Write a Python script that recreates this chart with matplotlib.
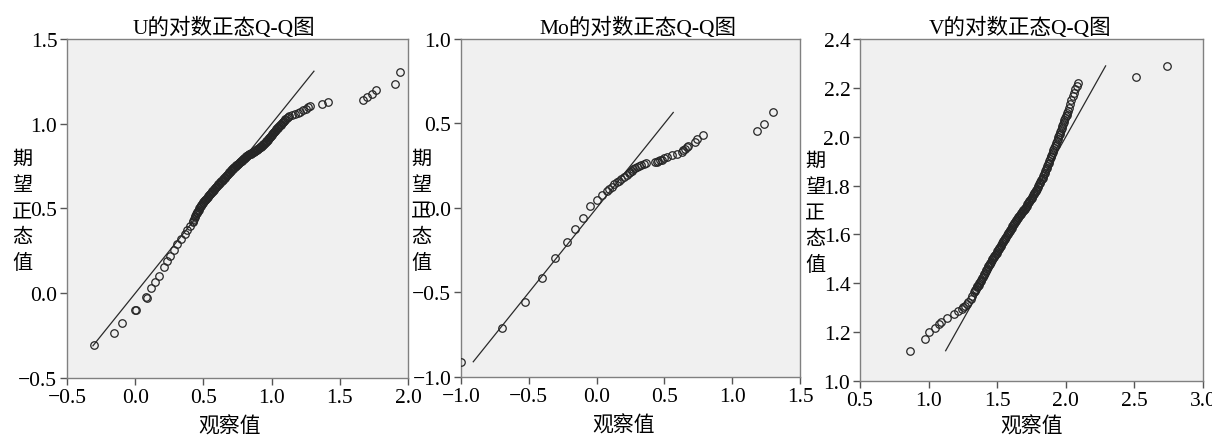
import matplotlib
matplotlib.use('Agg')
import matplotlib.pyplot as plt
from matplotlib.ticker import FuncFormatter

plt.rcParams['font.family'] = ['Liberation Serif', 'Noto Sans CJK SC']
plt.rcParams['axes.unicode_minus'] = True

# U: observed vs expected normal value (log scale)
u_obs = [-0.30, -0.155, -0.097, 0.0, 0.003, 0.081, 0.085, 0.114, 0.147, 0.177,
         0.209, 0.233, 0.257, 0.284, 0.309, 0.336, 0.363, 0.382, 0.402,
         0.420, 0.425, 0.430, 0.435, 0.440, 0.445, 0.450, 0.455, 0.460, 0.465,
         0.470, 0.475, 0.480, 0.485, 0.490, 0.495, 0.500, 0.505, 0.510, 0.515,
         0.520, 0.525, 0.530, 0.535, 0.540, 0.545, 0.550, 0.555, 0.560, 0.565,
         0.570, 0.575, 0.580, 0.585, 0.590, 0.595, 0.600, 0.605, 0.610, 0.615,
         0.620, 0.625, 0.630, 0.635, 0.640, 0.645, 0.650, 0.655, 0.660, 0.665,
         0.670, 0.675, 0.680, 0.685, 0.690, 0.695, 0.700, 0.705, 0.710, 0.715,
         0.720, 0.725, 0.730, 0.735, 0.740, 0.745, 0.750, 0.755, 0.760, 0.765,
         0.770, 0.775, 0.780, 0.785, 0.790, 0.795, 0.800, 0.805, 0.810, 0.815,
         0.820, 0.825, 0.830, 0.835, 0.840, 0.845, 0.850, 0.855, 0.860, 0.865,
         0.870, 0.875, 0.880, 0.885, 0.890, 0.895, 0.900, 0.905, 0.910, 0.915,
         0.920, 0.925, 0.930, 0.935, 0.940, 0.945, 0.950, 0.955, 0.960, 0.965,
         0.970, 0.975, 0.980, 0.985, 0.990, 0.995, 1.000, 1.005, 1.010, 1.015,
         1.020, 1.025, 1.030, 1.035, 1.040, 1.045, 1.050, 1.055, 1.060, 1.065,
         1.070, 1.075, 1.080, 1.085, 1.090, 1.095, 1.100, 1.11, 1.12, 1.13,
         1.15, 1.17, 1.19, 1.21, 1.23, 1.25, 1.27, 1.28,
         1.37, 1.415, 1.673, 1.70, 1.736, 1.767, 1.905, 1.94]
u_exp = [-0.305, -0.233, -0.177, -0.097, -0.10, -0.024, -0.03, 0.029, 0.065, 0.10,
         0.153, 0.188, 0.222, 0.257, 0.29, 0.32, 0.35, 0.375, 0.399,
         0.420, 0.429, 0.438, 0.447, 0.456, 0.465, 0.475, 0.481, 0.488, 0.494,
         0.500, 0.506, 0.512, 0.518, 0.525, 0.531, 0.537, 0.542, 0.548, 0.553,
         0.558, 0.563, 0.568, 0.573, 0.578, 0.583, 0.588, 0.592, 0.597, 0.601,
         0.606, 0.610, 0.615, 0.619, 0.624, 0.628, 0.633, 0.637, 0.642, 0.646,
         0.651, 0.655, 0.660, 0.664, 0.669, 0.673, 0.678, 0.682, 0.687, 0.691,
         0.696, 0.700, 0.705, 0.709, 0.714, 0.718, 0.723, 0.727, 0.731, 0.735,
         0.739, 0.743, 0.747, 0.751, 0.755, 0.758, 0.762, 0.765, 0.769, 0.772,
         0.776, 0.779, 0.783, 0.786, 0.790, 0.793, 0.797, 0.800, 0.804, 0.807,
         0.811, 0.814, 0.817, 0.819, 0.822, 0.824, 0.827, 0.829, 0.831, 0.833,
         0.836, 0.839, 0.842, 0.844, 0.847, 0.849, 0.852, 0.855, 0.858, 0.861,
         0.864, 0.867, 0.871, 0.874, 0.878, 0.882, 0.887, 0.891, 0.896, 0.900,
         0.905, 0.909, 0.914, 0.919, 0.924, 0.929, 0.934, 0.939, 0.944, 0.949,
         0.954, 0.958, 0.963, 0.967, 0.972, 0.976, 0.981, 0.985, 0.990, 0.994,
         0.999, 1.003, 1.008, 1.012, 1.017, 1.021, 1.026, 1.034, 1.041, 1.047,
         1.053, 1.060, 1.066, 1.072, 1.080, 1.088, 1.098, 1.107,
         1.116, 1.126, 1.141, 1.158, 1.176, 1.200, 1.236, 1.306]
u_line = [-0.31, 1.31]

# Mo
mo_obs = [-1.0, -0.70, -0.526, -0.40, -0.305, -0.22, -0.157, -0.098, -0.046, 0.0,
          0.04, 0.074, 0.092, 0.111, 0.13, 0.148, 0.163, 0.178, 0.20, 0.222,
          0.235, 0.246, 0.258, 0.27, 0.285, 0.30, 0.315, 0.33, 0.347, 0.364,
          0.43, 0.443, 0.455, 0.468, 0.48, 0.50, 0.517, 0.554, 0.59, 0.627,
          0.64, 0.652, 0.664, 0.676, 0.726, 0.738, 0.787, 1.186, 1.232, 1.303]
mo_exp = [-0.909, -0.712, -0.554, -0.416, -0.298, -0.201, -0.124, -0.057, 0.01, 0.047,
          0.075, 0.102, 0.114, 0.126, 0.139, 0.152, 0.162, 0.172, 0.185, 0.197,
          0.204, 0.211, 0.221, 0.231, 0.238, 0.245, 0.251, 0.256, 0.260, 0.264,
          0.270, 0.273, 0.277, 0.281, 0.285, 0.293, 0.300, 0.314, 0.322, 0.333,
          0.340, 0.349, 0.358, 0.368, 0.389, 0.408, 0.432, 0.457, 0.497, 0.566]
mo_line = [-0.91, 0.565]

# V
v_obs = [0.864, 0.974, 1.003, 1.047, 1.078, 1.09, 1.132, 1.185, 1.216, 1.24,
         1.253, 1.265, 1.278, 1.29, 1.307, 1.316,
         1.330, 1.335, 1.340, 1.345, 1.350, 1.355, 1.360, 1.365, 1.370, 1.375,
         1.380, 1.385, 1.390, 1.395, 1.400, 1.405, 1.410, 1.415, 1.420, 1.425,
         1.430, 1.435, 1.440, 1.445, 1.450, 1.455, 1.460, 1.465, 1.470, 1.475,
         1.480, 1.485, 1.490, 1.495, 1.500, 1.505, 1.510, 1.515, 1.520, 1.525,
         1.530, 1.535, 1.540, 1.545, 1.550, 1.555, 1.560, 1.565, 1.570, 1.575,
         1.580, 1.585, 1.590, 1.595, 1.600, 1.605, 1.610, 1.615, 1.620, 1.625,
         1.630, 1.635, 1.640, 1.645, 1.650, 1.655, 1.660, 1.665, 1.670, 1.675,
         1.680, 1.685, 1.690, 1.695, 1.700, 1.705, 1.710, 1.715, 1.720, 1.725,
         1.730, 1.735, 1.740, 1.745, 1.750, 1.755, 1.760, 1.765, 1.770, 1.775,
         1.780, 1.785, 1.790, 1.795, 1.800, 1.805, 1.810, 1.815, 1.820, 1.825,
         1.830, 1.835, 1.840, 1.845, 1.850, 1.855, 1.860, 1.865, 1.870, 1.875,
         1.880, 1.885, 1.890, 1.895, 1.900, 1.905, 1.910, 1.915, 1.920, 1.925,
         1.930, 1.935, 1.940, 1.945, 1.950, 1.955, 1.960, 1.965, 1.970, 1.975,
         1.980, 1.985, 1.990, 1.995, 2.000, 2.005, 2.010, 2.015, 2.020,
         2.03, 2.04, 2.05, 2.06, 2.07, 2.08, 2.09, 2.512, 2.74]
v_exp = [1.124, 1.172, 1.20, 1.216, 1.233, 1.243, 1.257, 1.274, 1.288, 1.296,
         1.302, 1.308, 1.315, 1.323, 1.336, 1.348,
         1.366, 1.370, 1.374, 1.378, 1.383, 1.387, 1.391, 1.395, 1.400, 1.405,
         1.410, 1.415, 1.421, 1.426, 1.432, 1.438, 1.444, 1.449, 1.455, 1.460,
         1.465, 1.470, 1.475, 1.479, 1.484, 1.489, 1.494, 1.498, 1.503, 1.507,
         1.512, 1.516, 1.521, 1.526, 1.531, 1.535, 1.540, 1.544, 1.549, 1.553,
         1.558, 1.563, 1.568, 1.572, 1.577, 1.582, 1.587, 1.591, 1.596, 1.601,
         1.606, 1.610, 1.615, 1.619, 1.624, 1.628, 1.633, 1.638, 1.643, 1.647,
         1.652, 1.656, 1.661, 1.665, 1.669, 1.673, 1.677, 1.680, 1.684, 1.688,
         1.692, 1.695, 1.699, 1.702, 1.706, 1.710, 1.714, 1.718, 1.723, 1.727,
         1.732, 1.737, 1.742, 1.746, 1.751, 1.755, 1.760, 1.764, 1.769, 1.773,
         1.778, 1.783, 1.788, 1.794, 1.800, 1.805, 1.811, 1.816, 1.822, 1.827,
         1.833, 1.839, 1.846, 1.852, 1.859, 1.866, 1.873, 1.880, 1.887, 1.894,
         1.901, 1.908, 1.916, 1.923, 1.931, 1.938, 1.946, 1.953, 1.961, 1.968,
         1.976, 1.983, 1.991, 1.998, 2.006, 2.013, 2.021, 2.028, 2.036, 2.043,
         2.051, 2.059, 2.067, 2.075, 2.083, 2.091, 2.099, 2.107, 2.116,
         2.133, 2.150, 2.166, 2.181, 2.196, 2.208, 2.218, 2.243, 2.291]
v_line = [1.124, 2.29]

titles = ['U的对数正态Q-Q图', 'Mo的对数正态Q-Q图', 'V的对数正态Q-Q图']
xlims = [(-0.5, 2.0), (-1.0, 1.5), (0.5, 3.0)]
ylims = [(-0.5, 1.5), (-1.0, 1.0), (1.0, 2.4)]
xticks = [[-0.5, 0.0, 0.5, 1.0, 1.5, 2.0], [-1.0, -0.5, 0.0, 0.5, 1.0, 1.5],
          [0.5, 1.0, 1.5, 2.0, 2.5, 3.0]]
yticks = [[-0.5, 0.0, 0.5, 1.0, 1.5], [-1.0, -0.5, 0.0, 0.5, 1.0],
          [1.0, 1.2, 1.4, 1.6, 1.8, 2.0, 2.2, 2.4]]

# axes boxes in figure fraction (left, bottom, width, height)
boxes = [(0.0553, 0.1367, 0.2814, 0.7722),
         (0.3804, 0.139, 0.2797, 0.770),
         (0.7096, 0.1298, 0.283, 0.779)]
ylab_x = [-0.132, -0.118, -0.131]
title_x = [0.46, 0.522, 0.466]
xlab_pos = [(0.478, -0.113), (0.48, -0.113), (0.50, -0.103)]


def fmt(v, pos):
    s = '%.1f' % v
    if s == '-0.0':
        s = '0.0'
    return s.replace('-', '\u2212')


fig = plt.figure(figsize=(12.12, 4.39), dpi=100)
data = [(u_obs, u_exp, u_line), (mo_obs, mo_exp, mo_line), (v_obs, v_exp, v_line)]

for i, (obs, exp, line) in enumerate(data):
    ax = fig.add_axes(boxes[i])
    ax.set_facecolor('#f0f0f0')
    ax.plot(line, line, color='#2a2a2a', lw=0.9, zorder=2)
    ax.plot(obs, exp, linestyle='none', marker='o', markersize=5.4,
            markerfacecolor='none', markeredgecolor='#262626',
            markeredgewidth=0.9, zorder=3)
    ax.set_xlim(*xlims[i])
    ax.set_ylim(*ylims[i])
    ax.set_xticks(xticks[i])
    ax.set_yticks(yticks[i])
    ax.xaxis.set_major_formatter(FuncFormatter(fmt))
    ax.yaxis.set_major_formatter(FuncFormatter(fmt))
    ax.tick_params(direction='out', length=5, width=1, color='#555555',
                   labelsize=15.5, pad=2)
    for sp in ax.spines.values():
        sp.set_color('#808080')
        sp.set_linewidth(1)
    ax.set_title(titles[i], fontsize=15.5, pad=4, x=title_x[i])
    ax.set_xlabel('观察值', fontsize=15)
    ax.xaxis.set_label_coords(*xlab_pos[i])
    ax.set_ylabel('期\n望\n正\n态\n值', fontsize=14.5, rotation=0,
                  va='center', ha='center', linespacing=1.5)
    ax.yaxis.set_label_coords(ylab_x[i], 0.49)

fig.savefig('out.png', dpi=100)
